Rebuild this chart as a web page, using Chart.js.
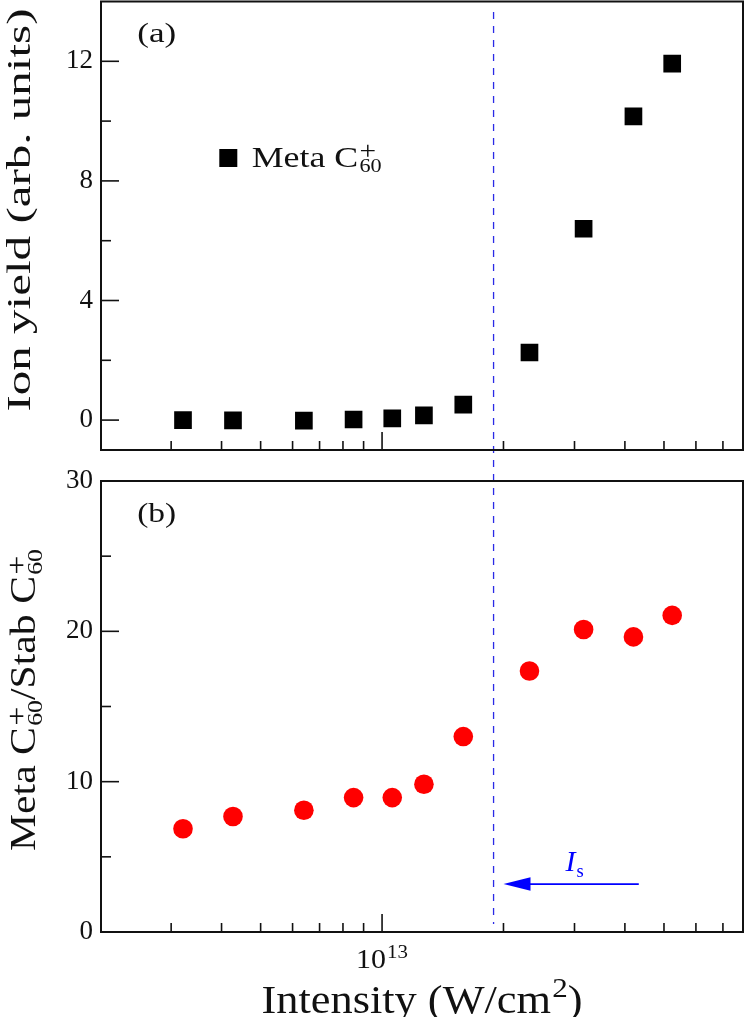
<!DOCTYPE html>
<html>
<head>
<meta charset="utf-8">
<script src="https://cdn.jsdelivr.net/npm/chart.js@4.4.1/dist/chart.umd.min.js"></script>
<style>
  body { margin: 0; background: #fff; }
  #wrap { position: relative; width: 746px; height: 1017px; }
  canvas { position: absolute; left: 0; }
</style>
</head>
<body>
<div id="wrap">
  <canvas id="chartA" width="746" height="460" style="top:0;width:746px;height:460px"></canvas>
  <canvas id="chartB" width="746" height="557" style="top:460px;width:746px;height:557px"></canvas>
</div>
<script>
// intensities (W/cm2) shared by both panels
const intensity = [3.21e12, 4.27e12, 6.40e12, 8.50e12, 1.06e13, 1.27e13, 1.59e13, 2.32e13, 3.16e13, 4.20e13, 5.24e13];
// (a) Meta C60+ ion yield, arb. units
const ionYield = [0.0, -0.01, -0.02, 0.02, 0.06, 0.16, 0.52, 2.26, 6.40, 10.16, 11.92];
// (b) Meta C60+ / Stab C60+ ratio
const yieldRatio = [6.87, 7.68, 8.10, 8.94, 8.94, 9.83, 13.0, 17.36, 20.12, 19.63, 21.06];

const xTicks = [3e12, 4e12, 5e12, 6e12, 7e12, 8e12, 9e12, 1e13, 2e13, 3e13, 4e13, 5e13, 6e13, 7e13];
const xLabelValues = [1e13];
const xLabelExponents = ['13'];
const yTicksA = [0, 2, 4, 6, 8, 10, 12];
const yLabelsA = [0, 4, 8, 12];
const yTicksB = [0, 5, 10, 15, 20, 25, 30];
const yLabelsB = [0, 10, 20, 30];

const satIntensity = 1.89e13;          // I_s (dashed line)
const arrowStart = 4.33e13, arrowEnd = 2.0e13, arrowLevel = 3.19;
const isLabelX = 2.85e13, isLabelLevel = 4.06;

const serif = "'Liberation Serif', 'Times New Roman', serif";
const ink = '#111';

// text with stacked sub/superscripts; opts.length stretches it to a given width
function drawRich(ctx, parts, x, y, size, opts) {
  opts = opts || {};
  const font = (s, it) => (it ? 'italic ' : '') + s + 'px ' + serif;
  ctx.save();
  ctx.translate(x, y);
  if (opts.rotate) ctx.rotate(-Math.PI / 2);
  ctx.fillStyle = opts.color || ink;
  ctx.textBaseline = 'alphabetic';
  ctx.textAlign = 'left';
  const widths = parts.map(p => {
    if (p.t !== undefined) { ctx.font = font(size, p.it); return ctx.measureText(p.t).width; }
    let w = 0;
    if (p.sub) { ctx.font = font(size * 0.62); w = ctx.measureText(p.sub).width; }
    if (p.sup) { ctx.font = font(size * (p.supSize || 0.82)); w = Math.max(w, ctx.measureText(p.sup).width); }
    return w + 1;
  });
  const total = widths.reduce((a, b) => a + b, 0);
  const sx = opts.length ? opts.length / total : 1;
  ctx.scale(sx, 1);
  let cx = opts.center ? -total / 2 : 0;
  parts.forEach((p, i) => {
    if (p.t !== undefined) {
      ctx.font = font(size, p.it);
      ctx.fillText(p.t, cx, 0);
    } else {
      if (p.sub) { ctx.font = font(size * 0.62); ctx.fillText(p.sub, cx + 1, size * 0.19); }
      if (p.sup) { ctx.font = font(size * (p.supSize || 0.82)); ctx.fillText(p.sup, cx + 1, -(p.supUp || 0.25) * size); }
    }
    cx += widths[i];
  });
  ctx.restore();
}

function line(ctx, x1, y1, x2, y2) {
  ctx.beginPath(); ctx.moveTo(x1, y1); ctx.lineTo(x2, y2); ctx.stroke();
}

function decor(panel) {
  return {
    id: 'decor' + panel.name,
    beforeDatasetsDraw(chart) {
      const { ctx, chartArea: a, scales: { x } } = chart;
      const px = x.getPixelForValue(satIntensity);
      ctx.save();
      ctx.strokeStyle = '#2a2ae6';
      ctx.lineWidth = 1.3;
      ctx.setLineDash([7, 7]);
      line(ctx, px, panel.name === 'A' ? 12 : 0, px, panel.name === 'A' ? chart.height : a.bottom - 8);
      ctx.restore();
    },
    afterDraw(chart) {
      const { ctx, chartArea: a, scales: { x, y } } = chart;
      ctx.save();
      ctx.strokeStyle = ink;
      ctx.lineWidth = 1.6;
      x.ticks.forEach(t => {
        const px = x.getPixelForValue(t.value);
        line(ctx, px, a.bottom, px, a.bottom - (xLabelValues.includes(t.value) ? 18 : 9));
      });
      y.ticks.forEach(t => {
        const py = y.getPixelForValue(t.value);
        line(ctx, a.left, py, a.left + (panel.yLabels.includes(t.value) ? 18 : 10), py);
      });
      ctx.lineWidth = 2;
      ctx.strokeRect(a.left, a.top, a.right - a.left, a.bottom - a.top);
      ctx.restore();

      drawRich(ctx, [{ t: panel.tag }], a.left + 55.7, a.top + 40.5, 28, { center: true, length: 39 });
      panel.extra(chart);
    }
  };
}

function xScale(height) {
  return {
    type: 'logarithmic',
    min: 2.01e12,
    max: 7.85e13,
    grid: { display: false, drawTicks: false },
    border: { display: false },
    afterBuildTicks: s => { s.ticks = xTicks.map(v => ({ value: v })); },
    afterFit: s => { s.height = height; s.paddingLeft = 0; s.paddingRight = 0; },
    ticks: { display: false }
  };
}

function yScale(min, max, ticks, labels) {
  return {
    min: min,
    max: max,
    grid: { display: false, drawTicks: false },
    border: { display: false },
    afterBuildTicks: s => { s.ticks = ticks.map(v => ({ value: v })); },
    afterFit: s => { s.width = 101; s.paddingTop = 0; s.paddingBottom = 0; },
    ticks: {
      autoSkip: false,
      crossAlign: 'near',
      padding: 8,
      color: ink,
      font: { family: serif, size: 27 },
      callback: v => labels.includes(v) ? String(v) : ''
    }
  };
}

const baseOptions = {
  responsive: false,
  animation: false,
  events: [],
  plugins: { legend: { display: false }, tooltip: { enabled: false } }
};

new Chart(document.getElementById('chartA'), {
  type: 'scatter',
  data: {
    datasets: [{
      label: 'Meta C60+',
      data: intensity.map((v, i) => ({ x: v, y: ionYield[i] })),
      pointStyle: 'rect',
      pointRadius: 12.5,
      borderWidth: 0,
      backgroundColor: '#000'
    }]
  },
  options: Object.assign({}, baseOptions, {
    layout: { autoPadding: false, padding: { left: 0, right: 3, top: 1.5, bottom: 0 } },
    scales: { x: xScale(10), y: yScale(-1, 14, yTicksA, yLabelsA) }
  }),
  plugins: [decor({
    name: 'A', tag: '(a)', yLabels: yLabelsA,
    extra(chart) {
      const { ctx, chartArea: a } = chart;
      drawRich(ctx, [{ t: 'Ion yield (arb. units)' }], 30, 210, 34, { rotate: true, center: true, length: 403 });
      // legend
      ctx.save();
      ctx.fillStyle = '#000';
      ctx.fillRect(a.left + 127.3 - 9, a.top + 156.5 - 9, 18, 18);
      ctx.restore();
      drawRich(ctx, [{ t: 'Meta C' }, { sub: '60', sup: '+' }], a.left + 150.7, a.top + 165.2, 30, { length: 130 });
    }
  })]
});

new Chart(document.getElementById('chartB'), {
  type: 'scatter',
  data: {
    datasets: [{
      label: 'Meta C60+/Stab C60+',
      data: intensity.map((v, i) => ({ x: v, y: yieldRatio[i] })),
      pointStyle: 'circle',
      pointRadius: 9.8,
      borderWidth: 0,
      backgroundColor: '#ff0000'
    }]
  },
  options: Object.assign({}, baseOptions, {
    layout: { autoPadding: false, padding: { left: 0, right: 3, top: 21, bottom: 0 } },
    scales: { x: xScale(85), y: yScale(0, 30, yTicksB, yLabelsB) }
  }),
  plugins: [decor({
    name: 'B', tag: '(b)', yLabels: yLabelsB,
    extra(chart) {
      const { ctx, chartArea: a, scales: { x, y } } = chart;
      drawRich(ctx, [{ t: 'Meta C' }, { sub: '60', sup: '+' }, { t: '/Stab C' }, { sub: '60', sup: '+' }],
        35, 240, 35, { rotate: true, center: true, length: 302 });
      // x tick labels and axis title
      xLabelValues.forEach((v, i) => {
        drawRich(ctx, [{ t: '10' }, { sup: xLabelExponents[i], supSize: 0.7, supUp: 0.37 }],
          x.getPixelForValue(v), a.bottom + 36, 27, { center: true, length: 52 });
      });
      drawRich(ctx, [{ t: 'Intensity (W/cm' }, { sup: '2', supSize: 0.7, supUp: 0.4 }, { t: ')' }],
        (a.left + a.right) / 2, 553, 39, { center: true, length: 321 });
      // I_s arrow
      const x1 = x.getPixelForValue(arrowStart), x2 = x.getPixelForValue(arrowEnd);
      const ay = y.getPixelForValue(arrowLevel);
      ctx.save();
      ctx.strokeStyle = '#0000ff';
      ctx.fillStyle = '#0000ff';
      ctx.lineWidth = 1.8;
      line(ctx, x1, ay, x2 + 20, ay);
      ctx.beginPath();
      ctx.moveTo(x2, ay);
      ctx.lineTo(x2 + 27, ay - 6.7);
      ctx.lineTo(x2 + 27, ay + 6.7);
      ctx.closePath();
      ctx.fill();
      ctx.restore();
      drawRich(ctx, [{ t: 'I', it: true }, { sub: 's' }], x.getPixelForValue(isLabelX), y.getPixelForValue(isLabelLevel), 30, { color: '#0000ff' });
    }
  })]
});
</script>
</body>
</html>
